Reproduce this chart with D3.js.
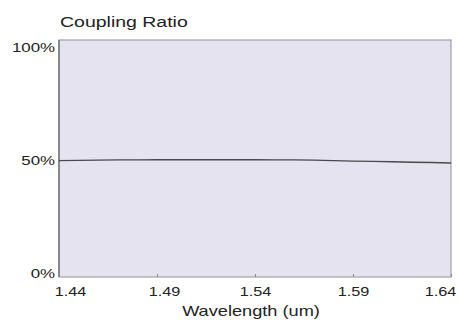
<!DOCTYPE html>
<html>
<head>
<meta charset="utf-8">
<script src="https://cdn.jsdelivr.net/npm/d3@7"></script>
<style>
  body { margin: 0; background: #fff; }
  text { font-family: "Liberation Sans", Arial, sans-serif; fill: #222; }
</style>
</head>
<body>
<div class="chart"></div>
<script>
const svgWidth = 458
const svgHeight = 323

let margin = { top: 40, right: 7, bottom: 46, left: 59 }
let width = svgWidth - margin.left - margin.right
let height = svgHeight - margin.top - margin.bottom

// data
const wavelength = [1.44, 1.45, 1.46, 1.47, 1.48, 1.49, 1.50, 1.51, 1.52, 1.53, 1.54,
  1.55, 1.56, 1.57, 1.58, 1.59, 1.60, 1.61, 1.62, 1.63, 1.64]
const ratio = [49.1, 49.2, 49.3, 49.4, 49.4, 49.5, 49.5, 49.5, 49.5, 49.5, 49.5,
  49.4, 49.4, 49.3, 49.1, 48.9, 48.8, 48.6, 48.4, 48.3, 48.1]
const xTicks = [1.44, 1.49, 1.54, 1.59, 1.64]
const yTicks = [0, 50, 100]

const stretch = 1.25 // text in the picture is wider than normal
// labels in the picture sit a little off their ticks
const xLabelShift = [11, 7, 0, 0, -11]
const yLabelShift = { 0: -4, 50: 2, 100: 7 }

let svg = d3.select(".chart").append("svg")
  .attr("width", svgWidth)
  .attr("height", svgHeight)

let chartGroup = svg.append("g")
  .attr("transform", `translate(${margin.left}, ${margin.top})`)

let x = d3.scaleLinear().domain([1.44, 1.64]).range([0, width])
let y = d3.scaleLinear().domain([0, 100]).range([height, 0])

// plot background
chartGroup.append("rect")
  .attr("width", width)
  .attr("height", height)
  .attr("fill", "#e5e3f0")
  .attr("stroke", "#a0a0a6")
  .attr("stroke-width", 1.2)

chartGroup.append("line")
  .attr("x1", 0).attr("x2", 0)
  .attr("y1", 0).attr("y2", height)
  .attr("stroke", "#6a6a6e")
  .attr("stroke-width", 1.3)

// x axis
let xAxis = chartGroup.append("g")
  .attr("transform", `translate(0, ${height})`)
  .call(d3.axisBottom(x).tickValues(xTicks).tickFormat(d3.format(".2f"))
    .tickSizeInner(-3).tickSizeOuter(0).tickPadding(10))
xAxis.select(".domain").remove()
xAxis.selectAll(".tick line").attr("stroke", "#888")
xAxis.selectAll("text")
  .attr("font-size", "13px")
  .attr("fill", "#222")
  .attr("transform", (d, i) => `translate(${xLabelShift[i]},0) scale(${stretch},1)`)

// y axis
let yAxis = chartGroup.append("g")
  .call(d3.axisLeft(y).tickValues(yTicks).tickFormat(d => d + "%")
    .tickSize(0).tickPadding(3))
yAxis.select(".domain").remove()
yAxis.selectAll("text")
  .attr("font-size", "13px")
  .attr("fill", "#222")
  .attr("dy", "0.32em")
  .attr("transform", d => `translate(0,${yLabelShift[d]}) scale(1.3,1)`)

// the curve
let line = d3.line()
  .x((d, i) => x(wavelength[i]))
  .y(d => y(d))

chartGroup.append("path")
  .datum(ratio)
  .attr("d", line)
  .attr("fill", "none")
  .attr("stroke", "#48484e")
  .attr("stroke-width", 1.4)

// title and axis label
svg.append("text")
  .attr("transform", `translate(60, 27) scale(1.3,1)`)
  .attr("font-size", "15px")
  .text("Coupling Ratio")

svg.append("text")
  .attr("transform", `translate(${margin.left + width / 2 - 4}, 316) scale(1.3,1)`)
  .attr("text-anchor", "middle")
  .attr("font-size", "14px")
  .text("Wavelength (um)")
</script>
</body>
</html>
